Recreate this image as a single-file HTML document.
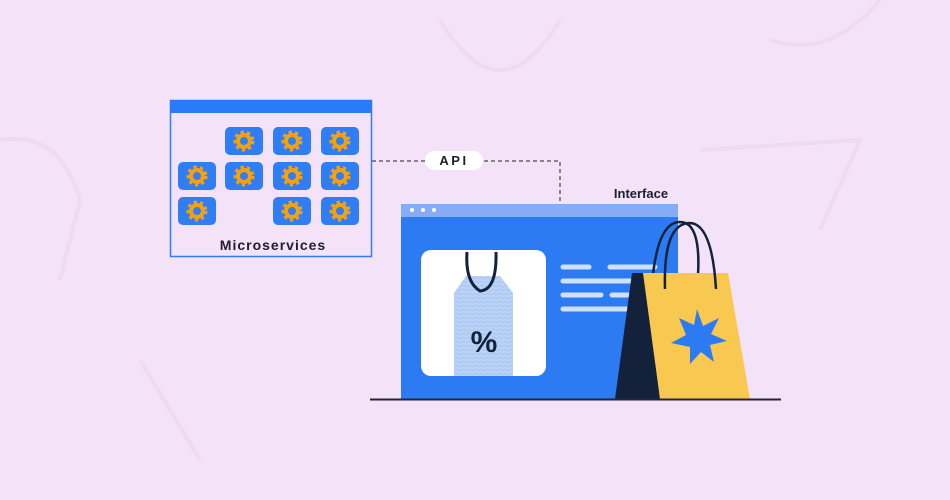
<!DOCTYPE html>
<html><head><meta charset="utf-8"><style>
html,body{margin:0;padding:0;background:#f3e2f8;}
svg{display:block}
</style></head><body>
<svg width="950" height="500" viewBox="0 0 950 500" xmlns="http://www.w3.org/2000/svg">
<defs>
<g id="tile">
<rect x="0" y="0" width="38" height="28" rx="5" fill="#2f7ef5"/>
<circle cx="19" cy="14" r="8.5" fill="none" stroke="#f5a011" stroke-width="4" stroke-dasharray="3 3.1"/>
<circle cx="19" cy="14" r="6" fill="none" stroke="#f5a011" stroke-width="4"/>
</g>
<pattern id="wave" width="6" height="4" patternUnits="userSpaceOnUse">
<rect width="6" height="4" fill="#b9d2f5"/>
<path d="M0 2 Q1.5 0.5 3 2 T6 2" stroke="#a4c3ef" fill="none" stroke-width="0.8"/>
</pattern>
</defs>
<rect width="950" height="500" fill="#f3e2f8"/>
<g fill="none" stroke="#efdaf4" stroke-width="4">
<path d="M440 20 Q500 120 560 20"/>
<path d="M0 140 Q60 130 80 200 L60 280"/>
<path d="M700 150 L860 140 L820 230"/>
<path d="M140 360 L200 460"/>
<path d="M770 40 Q830 60 880 0"/>
</g>
<rect x="170.5" y="100.5" width="201" height="156" fill="#f3e2f8" stroke="#2f7ef5" stroke-width="1.5"/>
<rect x="170" y="100" width="202" height="13" fill="#2a7bf7"/>
<use href="#tile" x="225" y="127"/><use href="#tile" x="273" y="127"/><use href="#tile" x="321" y="127"/>
<use href="#tile" x="178" y="162"/><use href="#tile" x="225" y="162"/><use href="#tile" x="273" y="162"/><use href="#tile" x="321" y="162"/>
<use href="#tile" x="178" y="197"/><use href="#tile" x="273" y="197"/><use href="#tile" x="321" y="197"/>
<text x="273" y="250" text-anchor="middle" font-family="Liberation Sans, sans-serif" font-weight="bold" font-size="14" letter-spacing="1" fill="#1e1e2e">Microservices</text>
<path d="M372 161 H560 V205" fill="none" stroke="#222" stroke-width="1" stroke-dasharray="4 3"/>
<rect x="425" y="151" width="58" height="19" rx="9.5" fill="#fff"/>
<text x="454" y="165" text-anchor="middle" font-family="Liberation Sans, sans-serif" font-weight="bold" font-size="13" letter-spacing="2.5" fill="#1e1e2e">API</text>
<text x="641" y="198" text-anchor="middle" font-family="Liberation Sans, sans-serif" font-weight="bold" font-size="13" fill="#1e1e2e">Interface</text>
<rect x="401" y="204" width="277" height="195" fill="#2d7bf2"/>
<rect x="401" y="204" width="277" height="13" fill="#85adf6"/>
<circle cx="412" cy="210" r="2" fill="#fff"/><circle cx="423" cy="210" r="2" fill="#fff"/><circle cx="434" cy="210" r="2" fill="#fff"/>
<rect x="421" y="250" width="125" height="126" rx="10" fill="#fff"/>
<path d="M454 293 L466 276 H500 L513 293 V376 H454 Z" fill="url(#wave)"/>
<path d="M467 252 Q465 282 480 291 Q497 290 496 252" fill="none" stroke="#13213a" stroke-width="3"/>
<text x="484" y="352" text-anchor="middle" font-family="Liberation Sans, sans-serif" font-weight="bold" font-size="30" fill="#13213a">%</text>
<g stroke="#cfe0fb" stroke-width="5" stroke-linecap="round">
<line x1="563" y1="267" x2="589" y2="267"/><line x1="610" y1="267" x2="655" y2="267"/>
<line x1="563" y1="281" x2="630" y2="281"/>
<line x1="563" y1="295" x2="601" y2="295"/><line x1="612" y1="295" x2="630" y2="295"/>
<line x1="563" y1="309" x2="635" y2="309"/>
</g>
<path d="M652 285 Q657 222 680 222 Q701 222 698 275" fill="none" stroke="#13213a" stroke-width="2.5"/>
<polygon points="632,273 645,273 660,399 615,399" fill="#13213a"/>
<polygon points="643,273 728,273 750,399 660,399" fill="#f9c850"/>
<path d="M665 289 Q663 223 690 223 Q712 224 716 289" fill="none" stroke="#13213a" stroke-width="2.5"/>
<polygon points="697,309 703,326 719,318 711,334 727,341 710,345 714,362 701,352 690,364 690,347 671,343 686,335 679,318 694,325" fill="#2d7bf2"/>
<line x1="370" y1="399.5" x2="781" y2="399.5" stroke="#1f2640" stroke-width="2"/>
</svg>
</body></html>
